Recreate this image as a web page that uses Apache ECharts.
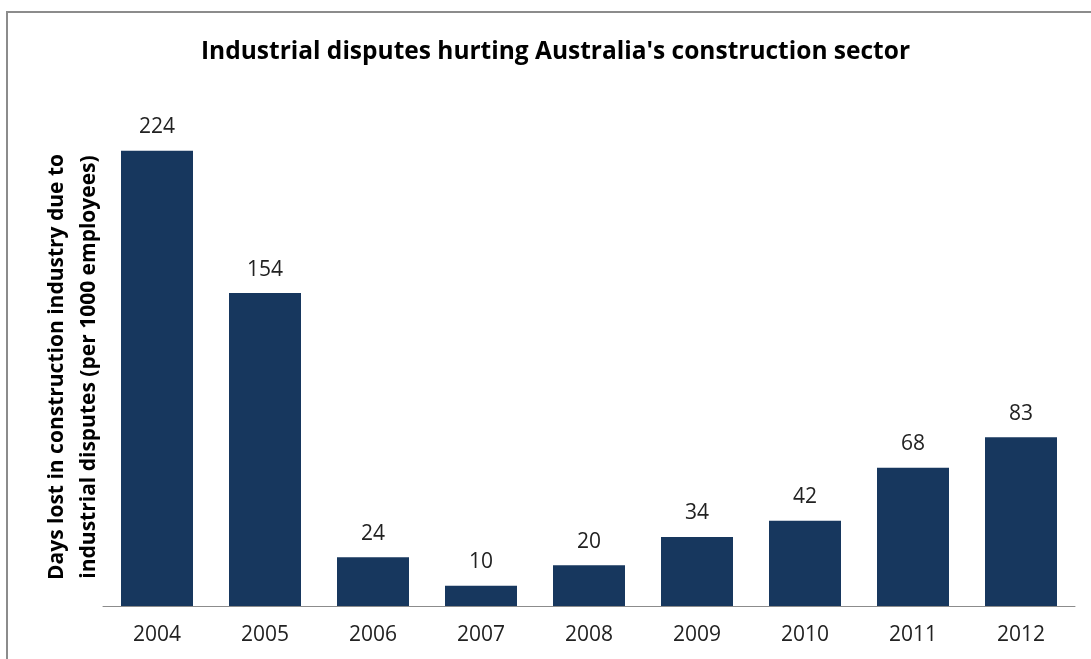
<!DOCTYPE html>
<html lang="en">
<head>
  <meta charset="UTF-8">
  <title>Industrial disputes</title>
  <script src="https://cdn.jsdelivr.net/npm/echarts@6/dist/echarts.min.js"></script>
  <style>
    body { margin: 0; background: #fff; }
    #chart { width: 1091px; height: 659px; }
  </style>
</head>
<body>
  <div id="chart"></div>
  <script>
    // years and days lost per 1000 employees
    const years = ['2004', '2005', '2006', '2007', '2008', '2009', '2010', '2011', '2012']
    const daysLost = [224, 154, 24, 10, 20, 34, 42, 68, 83]

    const myChart = echarts.init(document.getElementById('chart'))

    const font = 'Open Sans, Noto Sans, sans-serif'

    const option = {
      animation: false,
      title: {
        text: "Industrial disputes hurting Australia's construction sector",
        left: 196,
        top: 35,
        textStyle: { fontFamily: font, fontSize: 24.5, fontWeight: 'bold', color: '#000' }
      },
      graphic: [{
        type: 'rect',
        shape: { x: 7, y: 12, width: 1200, height: 800 },
        style: { fill: 'none', stroke: '#8c8c8c', lineWidth: 2 }
      }],
      grid: { left: 103, top: 98, width: 972, height: 508 },
      xAxis: {
        type: 'category',
        data: years,
        axisLine: { lineStyle: { color: '#8c8c8c', width: 1 } },
        axisTick: { show: false },
        axisLabel: { fontFamily: font, fontSize: 21, color: '#222', margin: 19 }
      },
      yAxis: {
        type: 'value',
        min: 0,
        max: 250,
        axisLine: { show: false },
        axisTick: { show: false },
        axisLabel: { show: false },
        splitLine: { show: false },
        name: 'Days lost in construction industry due to\nindustrial disputes (per 1000 employees)',
        nameLocation: 'middle',
        nameRotate: 90,
        nameGap: -2,
        nameTextStyle: {
          fontFamily: font, fontSize: 21, fontWeight: 'bold', color: '#000',
          lineHeight: 32, padding: [0, 30, 0, 0]
        }
      },
      series: [{
        type: 'bar',
        data: daysLost,
        barWidth: 72,
        itemStyle: { color: '#17375e' },
        label: {
          show: true,
          position: 'top',
          distance: 13,
          fontFamily: font,
          fontSize: 21,
          color: '#222'
        }
      }]
    }

    myChart.setOption(option)
  </script>
</body>
</html>
